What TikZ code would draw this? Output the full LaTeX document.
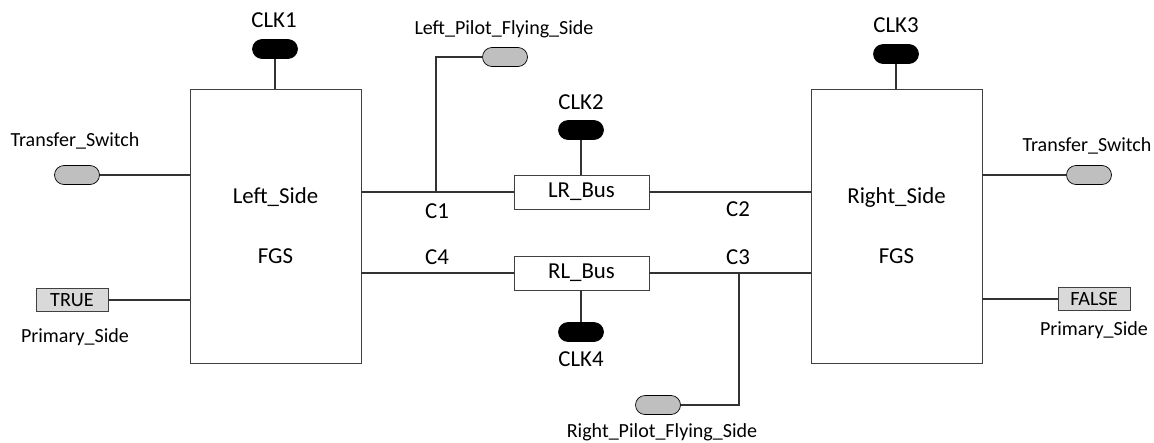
\documentclass[tikz,border=0pt]{standalone}
\usepackage{fontspec}
\setmainfont{Carlito}

\begin{document}
\begin{tikzpicture}[x=0.02cm,y=-0.02cm,
    block/.style={draw=black!75,minimum width=3.42cm,minimum height=5.48cm,align=center,font=\fontsize{13}{16}\selectfont},
    bus/.style={draw=black!75,minimum width=2.7cm,minimum height=0.68cm,inner sep=0pt,font=\fontsize{13}{16}\selectfont},
    clk/.style={draw=black,fill=black,rounded corners=0.19cm,minimum width=0.9cm,minimum height=0.38cm,inner sep=0pt},
    inp/.style={clk,fill=black!25},
    val/.style={draw=black!75,fill=black!15,minimum width=1.44cm,minimum height=0.46cm,inner sep=0pt,font=\fontsize{11.5}{13}\selectfont},
    big/.style={font=\fontsize{13}{16}\selectfont,inner sep=0pt},
    small/.style={font=\fontsize{11.4}{13}\selectfont,inner sep=0pt},
    wire/.style={draw=black!80,line width=0.6pt}]
    \useasboundingbox (0,0) rectangle (1154,443);

    % Draw the two sides
    \node[block] (left) at (275.5,226) {Left\_Side\\[18pt]FGS};
    \node[block] (right) at (896.5,226) {Right\_Side\\[18pt]FGS};

    % Draw the two buses
    \node[bus] (lr) at (581.5,192) {LR\_Bus};
    \node[bus] (rl) at (581.5,273) {RL\_Bus};

    % Clocks
    \node[clk] (clk1) at (275,49) {};
    \node[big] at (274,20) {CLK1};
    \node[clk] (clk2) at (581,130) {};
    \node[big] at (581,102) {CLK2};
    \node[clk] (clk3) at (896,54) {};
    \node[big] at (896,25) {CLK3};
    \node[clk] (clk4) at (581,332) {};
    \node[big] at (581,359) {CLK4};

    % Inputs
    \node[inp] (tsl) at (77,175) {};
    \node[small] at (75,141) {Transfer\_Switch};
    \node[inp] (tsr) at (1089,175) {};
    \node[small] at (1087,146) {Transfer\_Switch};
    \node[inp] (lpf) at (505,57) {};
    \node[small] at (504,29) {Left\_Pilot\_Flying\_Side};
    \node[inp] (rpf) at (658,405) {};
    \node[small] at (662,432) {Right\_Pilot\_Flying\_Side};

    % Primary side values
    \node[val] (tru) at (72,300) {TRUE};
    \node[small] at (75,337) {Primary\_Side};
    \node[val] (fal) at (1094,299) {FALSE};
    \node[small] at (1094,330) {Primary\_Side};

    % Channels
    \coordinate (c1) at (436,192);
    \coordinate (c3) at (739,273);
    \node[big] at (437,211) {C1};
    \node[big] at (738,209) {C2};
    \node[big] at (738,257) {C3};
    \node[big] at (437,257) {C4};

    % Wires
    \draw[wire] (left.east |- lr) -- (lr.west);
    \draw[wire] (lr.east) -- (right.west |- lr);
    \draw[wire] (left.east |- rl) -- (rl.west);
    \draw[wire] (rl.east) -- (right.west |- rl);
    \draw[wire] (lpf.west) -| (c1);
    \draw[wire] (c3) |- (rpf.east);
    \draw[wire] (clk1.south) -- (clk1.south |- left.north);
    \draw[wire] (clk3.south) -- (clk3.south |- right.north);
    \draw[wire] (clk2.south) -- (clk2.south |- lr.north);
    \draw[wire] (clk4.north |- rl.south) -- (clk4.north);
    \draw[wire] (tsl.east) -- (tsl.east -| left.west);
    \draw[wire] (tru.east) -- (tru.east -| left.west);
    \draw[wire] (right.east |- tsr) -- (tsr.west);
    \draw[wire] (right.east |- fal) -- (fal.west);

\end{tikzpicture}
\end{document}
